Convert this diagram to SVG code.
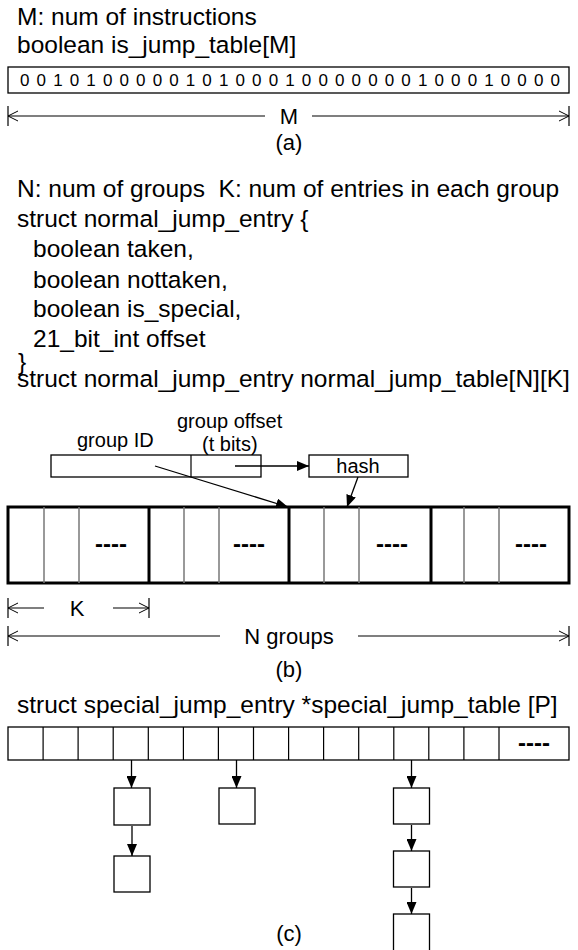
<svg xmlns="http://www.w3.org/2000/svg" width="578" height="950" viewBox="0 0 578 950">
  <style>
    .t { font-family: "Liberation Sans", Arial, sans-serif; font-size: 24.5px; fill: #000; }
    .s { font-family: "Liberation Sans", Arial, sans-serif; font-size: 20px; fill: #000; }
    .bits { font-family: "Liberation Sans", Arial, sans-serif; font-size: 17px; fill: #000; }
    .dash { font-family: "Liberation Sans", Arial, sans-serif; font-size: 24px; font-weight: bold; fill: #000; text-anchor: middle; }
    .mid { text-anchor: middle; }
    .box { fill: #fff; stroke: #000; stroke-width: 1.3; }
    .thick { fill: none; stroke: #000; stroke-width: 3; }
    .thin { stroke: #777; stroke-width: 1.5; }
    .cell { stroke: #000; stroke-width: 1.2; }
    .dim { stroke: #000; stroke-width: 1.2; fill: none; }
    .arr { stroke: #000; stroke-width: 1.3; fill: none; }
  </style>
  <defs>
    <marker id="tri" markerUnits="userSpaceOnUse" viewBox="0 0 12 10" refX="12" refY="5" markerWidth="12" markerHeight="10" orient="auto">
      <path d="M0,0 L12,5 L0,10 z" fill="#000"/>
    </marker>
    <marker id="open" markerUnits="userSpaceOnUse" viewBox="0 0 12 12" refX="11" refY="6" markerWidth="12" markerHeight="12" orient="auto-start-reverse">
      <path d="M1,1 L11,6 L1,11" fill="none" stroke="#000" stroke-width="1"/>
    </marker>
  </defs>

  <!-- (a) instruction bitmap -->
  <text class="t" x="17" y="25">M: num of instructions</text>
  <text class="t" x="17" y="53">boolean is_jump_table[M]</text>
  <g id="is-jump-table">
    <rect class="box" x="8" y="67" width="561" height="26" stroke="#555"/>
    <text class="bits" x="20" y="86" textLength="540" lengthAdjust="spacing">0 0 1 0 1 0 0 0 0 0 1 0 1 0 0 0 1 0 0 0 0 0 0 0 1 0 0 0 1 0 0 0 0</text>
  </g>
  <g id="dim-m">
    <line class="dim" x1="8" y1="106" x2="8" y2="126"/>
    <line class="dim" x1="569" y1="106" x2="569" y2="126"/>
    <line class="dim" x1="265" y1="116" x2="8" y2="116" marker-end="url(#open)"/>
    <line class="dim" x1="312" y1="116" x2="569" y2="116" marker-end="url(#open)"/>
    <text class="t mid" x="289" y="124" style="font-size:22px">M</text>
  </g>
  <text class="t mid" x="289" y="150" style="font-size:22px">(a)</text>

  <!-- (b) normal jump table -->
  <text class="t" x="17" y="197" xml:space="preserve">N: num of groups  K: num of entries in each group</text>
  <text class="t" x="17" y="227">struct normal_jump_entry {</text>
  <text class="t" x="33" y="257">boolean taken,</text>
  <text class="t" x="33" y="288">boolean nottaken,</text>
  <text class="t" x="33" y="317">boolean is_special,</text>
  <text class="t" x="33" y="347">21_bit_int offset</text>
  <text class="t" x="18" y="370">}</text>
  <text class="t" x="17" y="387">struct normal_jump_entry normal_jump_table[N][K]</text>

  <g id="address">
    <text class="s" x="77" y="447">group ID</text>
    <text class="s" x="177" y="428">group offset</text>
    <text class="s" x="202" y="451">(t bits)</text>
    <rect class="box" x="51" y="455" width="210" height="22" style="fill:none"/>
    <line class="cell" x1="191" y1="455" x2="191" y2="477"/>
  </g>
  <g id="hash">
    <rect class="box" x="309" y="455" width="99" height="22"/>
    <text class="s mid" x="358" y="473">hash</text>
  </g>

  <g id="normal-table">
    <rect class="thick" x="8" y="507" width="561" height="76"/>
    <line class="thin" x1="44" y1="507" x2="44" y2="583"/>
    <line class="thin" x1="79" y1="507" x2="79" y2="583"/>
    <line class="thin" x1="184" y1="507" x2="184" y2="583"/>
    <line class="thin" x1="219" y1="507" x2="219" y2="583"/>
    <line class="thin" x1="324" y1="507" x2="324" y2="583"/>
    <line class="thin" x1="359" y1="507" x2="359" y2="583"/>
    <line class="thin" x1="464" y1="507" x2="464" y2="583"/>
    <line class="thin" x1="499" y1="507" x2="499" y2="583"/>
    <line class="thick" x1="149" y1="507" x2="149" y2="583"/>
    <line class="thick" x1="289" y1="507" x2="289" y2="583"/>
    <line class="thick" x1="431" y1="507" x2="431" y2="583"/>
    <text class="dash" x="111" y="552">----</text>
    <text class="dash" x="249" y="552">----</text>
    <text class="dash" x="392" y="552">----</text>
    <text class="dash" x="531" y="552">----</text>
  </g>

  <g id="connectors">
    <line class="arr" x1="235" y1="466" x2="309" y2="466" marker-end="url(#tri)"/>
    <line class="arr" x1="155" y1="466" x2="288" y2="507" marker-end="url(#tri)"/>
    <line class="arr" x1="358" y1="477" x2="347" y2="507" marker-end="url(#tri)"/>
    <line class="arr" x1="131.5" y1="760" x2="131.5" y2="788" marker-end="url(#tri)"/>
    <line class="arr" x1="236.5" y1="760" x2="236.5" y2="788" marker-end="url(#tri)"/>
    <line class="arr" x1="411.5" y1="760" x2="411.5" y2="788" marker-end="url(#tri)"/>
    <line class="arr" x1="132" y1="826" x2="132" y2="856" marker-end="url(#tri)"/>
    <line class="arr" x1="411.5" y1="825" x2="411.5" y2="851" marker-end="url(#tri)"/>
    <line class="arr" x1="411.5" y1="888" x2="411.5" y2="914" marker-end="url(#tri)"/>
  </g>

  <g id="dim-k">
    <line class="dim" x1="8" y1="598" x2="8" y2="618"/>
    <line class="dim" x1="149" y1="598" x2="149" y2="618"/>
    <line class="dim" x1="44" y1="608" x2="8" y2="608" marker-end="url(#open)"/>
    <line class="dim" x1="113" y1="608" x2="149" y2="608" marker-end="url(#open)"/>
    <text class="t mid" x="77" y="616" style="font-size:22px">K</text>
  </g>
  <g id="dim-n">
    <line class="dim" x1="8" y1="626" x2="8" y2="646"/>
    <line class="dim" x1="569" y1="626" x2="569" y2="646"/>
    <line class="dim" x1="220" y1="636" x2="8" y2="636" marker-end="url(#open)"/>
    <line class="dim" x1="358" y1="636" x2="569" y2="636" marker-end="url(#open)"/>
    <text class="t mid" x="289" y="644" style="font-size:22px">N groups</text>
  </g>
  <text class="t mid" x="289" y="677" style="font-size:22px">(b)</text>

  <!-- (c) special jump table -->
  <text class="t" x="17" y="713">struct special_jump_entry *special_jump_table [P]</text>
  <g id="special-table">
    <rect class="box" x="8" y="727" width="561" height="33"/>
    <path class="cell" d="M43.1,727V760 M78.1,727V760 M113.2,727V760 M148.3,727V760 M183.4,727V760 M218.4,727V760 M253.5,727V760 M288.6,727V760 M323.6,727V760 M358.7,727V760 M393.8,727V760 M428.8,727V760 M463.9,727V760 M499,727V760"/>
    <text class="dash" x="534" y="751">----</text>
  </g>
  <g id="entry-3a"><rect class="box" x="114" y="788" width="36" height="37"/></g>
  <g id="entry-3b"><rect class="box" x="114" y="856" width="36" height="36"/></g>
  <g id="entry-6a"><rect class="box" x="219" y="788" width="36" height="36"/></g>
  <g id="entry-11a"><rect class="box" x="393.5" y="788" width="36" height="36"/></g>
  <g id="entry-11b"><rect class="box" x="393.5" y="851" width="36" height="36"/></g>
  <g id="entry-11c"><rect class="box" x="393.5" y="914" width="36" height="37"/></g>
  <text class="t mid" x="289" y="941" style="font-size:22px">(c)</text>
</svg>
